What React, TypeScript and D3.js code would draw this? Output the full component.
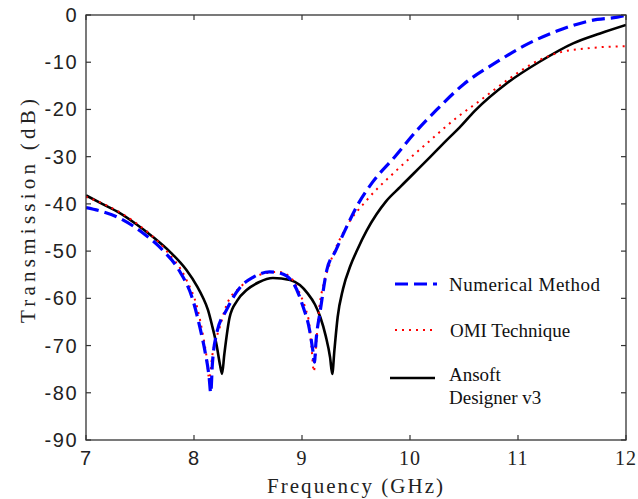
import React from "react";
import * as d3 from "d3";

const xTicks = [7, 8, 9, 10, 11, 12];
const yTicks = [0, -10, -20, -30, -40, -50, -60, -70, -80, -90];

const numF = [7, 7.31, 7.53, 7.71, 7.86, 7.99, 8.06, 8.1, 8.14, 8.155, 8.17, 8.21, 8.3, 8.43, 8.55, 8.7, 8.8, 8.92, 9.01, 9.07, 9.1, 9.115, 9.13, 9.17, 9.23, 9.31, 9.4, 9.52, 9.65, 9.86, 10.05, 10.25, 10.5, 10.8, 11.05, 11.36, 11.67, 11.97, 12];
const numV = [-40.8, -43, -46.2, -49.8, -54, -60.4, -66.7, -71, -76.7, -80, -74, -67.4, -62.5, -57.6, -55.5, -54.4, -54.7, -56.8, -61.8, -66.7, -71, -73.5, -69, -62.5, -54, -50, -45.5, -40, -35.5, -30, -24.8, -20, -14.6, -10, -6.6, -3.4, -1.2, -0.2, 0];

const omiF = [7, 7.18, 7.46, 7.74, 7.93, 8.03, 8.08, 8.12, 8.14, 8.17, 8.24, 8.3, 8.43, 8.61, 8.78, 8.89, 8.98, 9.03, 9.07, 9.09, 9.11, 9.13, 9.16, 9.2, 9.26, 9.41, 9.6, 9.88, 10.16, 10.44, 10.62, 10.9, 11.14, 11.36, 11.67, 12];
const omiV = [-38.5, -40.2, -44, -49.8, -56.1, -62, -67.4, -73, -77, -72, -66, -61.5, -57.6, -55, -54.4, -55.5, -59, -62, -66, -71, -75.5, -70, -62, -57, -52.5, -44.9, -39.2, -32.8, -27.1, -21.6, -18.6, -13.8, -10.2, -8.1, -7, -6.6];

const ansF = [7, 7.15, 7.31, 7.46, 7.62, 7.78, 7.93, 8.03, 8.08, 8.13, 8.17, 8.21, 8.24, 8.26, 8.28, 8.33, 8.4, 8.49, 8.6, 8.73, 8.89, 8.98, 9.05, 9.12, 9.17, 9.22, 9.26, 9.28, 9.3, 9.33, 9.38, 9.45, 9.51, 9.6, 9.69, 9.78, 9.91, 10.19, 10.34, 10.46, 10.6, 10.9, 11.2, 11.51, 11.76, 12];
const ansV = [-38.2, -40, -41.9, -44.2, -47, -50.2, -54, -57.5, -59.7, -62.5, -66, -70, -74, -76, -72, -64, -60.5, -58.2, -56.6, -55.7, -56.1, -57.2, -58.9, -61.3, -64, -68, -72.5, -76, -71, -64, -58, -53, -49.8, -45.6, -42.2, -39.4, -36.4, -30, -26.5, -23.8, -20.3, -14.4, -9.9, -6, -3.9, -2.1];

const W = 638, H = 499;
const L = 86, R = 626, T = 15, B = 440;

export default function App() {
  const x = d3.scaleLinear().domain([7, 12]).range([L, R]);
  const y = d3.scaleLinear().domain([-90, 0]).range([B, T]);
  const line = d3.line<[number, number]>().x(d => x(d[0])).y(d => y(d[1])).curve(d3.curveMonotoneX);
  const mk = (f: number[], v: number[]) => line(f.map((ff, i) => [ff, v[i]] as [number, number])) || "";
  const serif = "'Liberation Serif', 'Times New Roman', serif";
  const sans = "'Liberation Sans', Arial, sans-serif";
  const axisColor = "#333";
  return (
    <svg width={W} height={H} style={{ position: "fixed", left: 0, top: 0, background: "#fff" }}>
      <rect x={0} y={0} width={W} height={H} fill="#fff" />
      <defs>
        <clipPath id="clip"><rect x={L} y={T} width={R - L} height={B - T} /></clipPath>
      </defs>
      <g clipPath="url(#clip)">
        <path d={mk(ansF, ansV)} fill="none" stroke="#000" strokeWidth={2.6} />
        <path d={mk(omiF, omiV)} fill="none" stroke="#ff0000" strokeWidth={2} strokeDasharray="2 5" />
        <path d={mk(numF, numV)} fill="none" stroke="#0000ff" strokeWidth={3.2} strokeDasharray="13 6" />
      </g>
      <rect x={L} y={T} width={R - L} height={B - T} fill="none" stroke={axisColor} strokeWidth={1.3} />
      {xTicks.map(t => (
        <g key={"x" + t}>
          <line x1={x(t)} x2={x(t)} y1={B} y2={B - 5} stroke={axisColor} strokeWidth={1.2} />
          <line x1={x(t)} x2={x(t)} y1={T} y2={T + 5} stroke={axisColor} strokeWidth={1.2} />
          <text x={x(t)} y={465} textAnchor="middle" fontSize={20} letterSpacing={1} fontFamily={t <= 8 ? sans : serif} fill="#222">{t}</text>
        </g>
      ))}
      {yTicks.map(t => (
        <g key={"y" + t}>
          <line x1={L} x2={L + 5} y1={y(t)} y2={y(t)} stroke={axisColor} strokeWidth={1.2} />
          <line x1={R} x2={R - 5} y1={y(t)} y2={y(t)} stroke={axisColor} strokeWidth={1.2} />
          <text x={78} y={y(t) + 7} textAnchor="end" fontSize={20} letterSpacing={1.5} fontFamily={sans} fill="#222">{t}</text>
        </g>
      ))}
      <text x={355} y={493} textAnchor="middle" fontSize={21} fontFamily={serif} textLength={176} lengthAdjust="spacing" fill="#222">Frequency (GHz)</text>
      <text transform={`translate(35, 211) rotate(-90)`} textAnchor="middle" fontSize={21} fontFamily={serif} textLength={224} lengthAdjust="spacing" fill="#222">Transmission (dB)</text>
      {/* legend */}
      <line x1={395} x2={437} y1={284} y2={284} stroke="#0000ff" strokeWidth={3.2} strokeDasharray="13 6" />
      <text x={449} y={291} fontSize={19} fontFamily={serif} textLength={151} lengthAdjust="spacing" fill="#111">Numerical Method</text>
      <line x1={395} x2={437} y1={330} y2={330} stroke="#ff0000" strokeWidth={2} strokeDasharray="2 5" />
      <text x={450} y={337} fontSize={19} fontFamily={serif} fill="#111">OMI Technique</text>
      <line x1={390} x2={435} y1={378} y2={378} stroke="#000" strokeWidth={2.6} />
      <text x={449} y={381} fontSize={19} fontFamily={serif} fill="#111">Ansoft</text>
      <text x={449} y={404} fontSize={19} fontFamily={serif} fill="#111">Designer v3</text>
    </svg>
  );
}
